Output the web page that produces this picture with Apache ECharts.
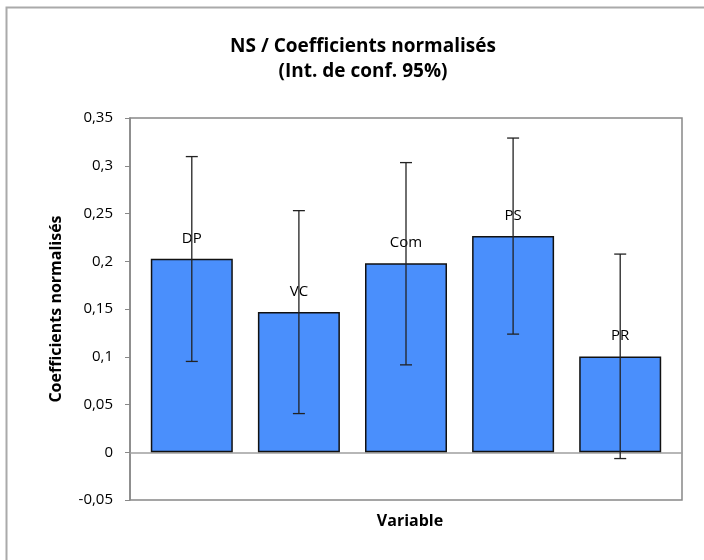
<!DOCTYPE html>
<html>
<head>
<meta charset="utf-8">
<script src="https://cdn.jsdelivr.net/npm/echarts@6/dist/echarts.min.js"></script>
<style>
  html, body { margin: 0; padding: 0; background: #fff; }
  #chart { width: 704px; height: 560px; }
</style>
</head>
<body>
<div id="chart"></div>
<script>
// variables et coefficients normalisés
var categories = ['DP', 'VC', 'Com', 'PS', 'PR'];
var values = [0.2026, 0.1468, 0.1978, 0.2264, 0.1003];
// bornes de l'intervalle de confiance à 95%
var lower = [0.0951, 0.0405, 0.0915, 0.1237, -0.0066];
var upper = [0.3096, 0.2530, 0.3033, 0.3290, 0.2075];

var fmt = function (v) {
	return String(Math.round(v * 100) / 100).replace('.', ',');
};

var myChart = echarts.init(document.getElementById('chart'));

var barData = [], errData = [];
for (var i = 0; i < categories.length; i++) {
	barData.push([i, values[i]]);
	errData.push([i, lower[i], upper[i]]);
}

var option = {
	animation: false,
	textStyle: { fontFamily: 'Open Sans' },
	title: [
		{
			text: 'NS / Coefficients normalisés\n(Int. de conf. 95%)',
			left: 358,
			top: 29,
			textAlign: 'center',
			textStyle: { fontSize: 19, fontWeight: 'bold', color: '#000', lineHeight: 25, fontFamily: 'Open Sans' }
		},
		{
			text: 'Variable',
			left: 405,
			top: 508,
			textAlign: 'center',
			textStyle: { fontSize: 16, fontWeight: 'bold', color: '#000', fontFamily: 'Open Sans' }
		}
	],
	graphic: [
		{
			type: 'rect',
			shape: { x: 6.5, y: 7.5, width: 720, height: 580 },
			style: { fill: null, stroke: '#aaa', lineWidth: 2 },
			silent: true
		}
	],
	grid: {
		left: 130,
		right: 22,
		top: 118,
		bottom: 60,
		show: true,
		borderColor: '#888',
		borderWidth: 1.5
	},
	xAxis: {
		type: 'value',
		min: -0.577,
		max: 4.577,
		axisLine: { show: true, onZero: true, lineStyle: { color: '#a0a0a0', width: 1.5 } },
		axisTick: { show: false },
		axisLabel: { show: false },
		splitLine: { show: false }
	},
	yAxis: {
		type: 'value',
		min: -0.05,
		max: 0.35,
		interval: 0.05,
		name: 'Coefficients normalisés',
		nameLocation: 'middle',
		nameGap: 66,
		nameTextStyle: { fontSize: 16, fontWeight: 'bold', color: '#000', fontFamily: 'Open Sans' },
		axisLine: { show: true, onZero: false, lineStyle: { color: '#888', width: 1.5 } },
		axisTick: { show: true, inside: false, length: 5, lineStyle: { color: '#888' } },
		axisLabel: { color: '#000', fontSize: 15, margin: 17, formatter: fmt },
		splitLine: { show: false }
	},
	series: [
		{
			type: 'bar',
			data: barData,
			barWidth: 82,
			itemStyle: { color: '#4a8ffc', borderColor: '#111', borderWidth: 1.5 },
			label: {
				show: true,
				position: 'top',
				distance: 13,
				color: '#000',
				fontSize: 15,
				formatter: function (p) { return categories[p.dataIndex]; }
			}
		},
		{
			type: 'custom',
			data: errData,
			z: 10,
			renderItem: function (params, api) {
				var x = api.value(0);
				var lo = api.coord([x, api.value(1)]);
				var hi = api.coord([x, api.value(2)]);
				var cap = 6;
				var style = { stroke: '#222', lineWidth: 1.3 };
				return {
					type: 'group',
					children: [
						{ type: 'line', shape: { x1: hi[0], y1: hi[1], x2: lo[0], y2: lo[1] }, style: style },
						{ type: 'line', shape: { x1: hi[0] - cap, y1: hi[1], x2: hi[0] + cap, y2: hi[1] }, style: style },
						{ type: 'line', shape: { x1: lo[0] - cap, y1: lo[1], x2: lo[0] + cap, y2: lo[1] }, style: style }
					]
				};
			}
		}
	]
};

myChart.setOption(option);
</script>
</body>
</html>
